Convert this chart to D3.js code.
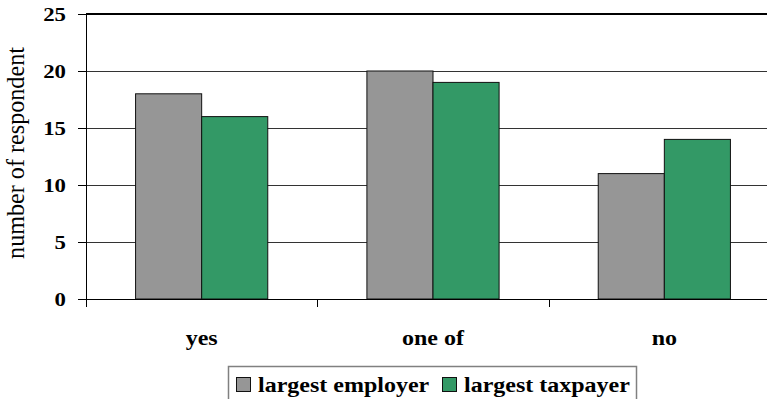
<!DOCTYPE html>
<html><head><meta charset="utf-8">
<script src="https://cdn.jsdelivr.net/npm/d3@7/dist/d3.min.js"></script>
<style>body{margin:0;background:#fff}svg{display:block}
text{font-family:"Liberation Serif","Times New Roman",Times,serif}</style>
</head><body>
<script>
const categories = ["yes", "one of", "no"];
const seriesNames = ["largest employer", "largest taxpayer"];
const employer = [18, 20, 11];
const taxpayer = [16, 19, 14];
const yTicks = [0, 5, 10, 15, 20, 25];
const colors = ["#969696", "#339966"];

const W = 767, H = 399;
const svg = d3.select("body").append("svg").attr("width", W).attr("height", H);
const SX = 1.2;

const x0 = d3.scaleBand().domain(categories).range([86, 780]).paddingInner(0).paddingOuter(0);
const x1 = d3.scaleBand().domain(seriesNames).range([0, x0.bandwidth()]).paddingOuter(0.75).paddingInner(0);
const y = d3.scaleLinear().domain([0, 25]).range([299, 14]);

// gridlines
svg.append("g").selectAll("line").data(yTicks.filter(d => d > 0 && d < 25)).join("line")
  .attr("x1", 86).attr("x2", W).attr("y1", d => Math.round(y(d)) + 0.5).attr("y2", d => Math.round(y(d)) + 0.5)
  .attr("stroke", "#333").attr("stroke-width", 1);
// top border
svg.append("line").attr("x1", 86).attr("x2", W).attr("y1", y(25)).attr("y2", y(25))
  .attr("stroke", "#000").attr("stroke-width", 2);

// bars
const data = categories.map((c, i) => ({c, vals: [employer[i], taxpayer[i]]}));
const g = svg.append("g").selectAll("g").data(data).join("g")
  .attr("transform", d => `translate(${x0(d.c)},0)`);
g.selectAll("rect").data(d => d.vals.map((v, j) => ({v, s: seriesNames[j], j}))).join("rect")
  .attr("x", d => x1(d.s)).attr("width", x1.bandwidth())
  .attr("y", d => y(d.v)).attr("height", d => y(0) - y(d.v))
  .attr("fill", d => colors[d.j]).attr("stroke", "#111").attr("stroke-width", 1);

// zero line / x axis
svg.append("line").attr("x1", 86).attr("x2", W).attr("y1", y(0) + 0.5).attr("y2", y(0) + 0.5)
  .attr("stroke", "#000").attr("stroke-width", 1);
// category tick marks
const bounds = categories.map(c => x0(c)).concat([x0.range()[1]]);
svg.append("g").selectAll("line").data(bounds).join("line")
  .attr("x1", d => Math.round(d) + 0.5).attr("x2", d => Math.round(d) + 0.5)
  .attr("y1", y(0)).attr("y2", y(0) + 8).attr("stroke", "#000");

// y axis
svg.append("line").attr("x1", 86.5).attr("x2", 86.5).attr("y1", y(25)).attr("y2", y(0) + 8)
  .attr("stroke", "#000").attr("stroke-width", 1);
svg.append("g").selectAll("line").data(yTicks).join("line")
  .attr("x1", 78).attr("x2", 86).attr("y1", d => Math.round(y(d)) + 0.5).attr("y2", d => Math.round(y(d)) + 0.5)
  .attr("stroke", "#000");
svg.append("g").selectAll("text").data(yTicks).join("text")
  .attr("transform", d => `translate(66,${y(d) + 7}) scale(${SX},1)`)
  .attr("text-anchor", "end").attr("font-weight", "bold").attr("font-size", 19)
  .text(d => d);

// category labels
svg.append("g").selectAll("text").data(categories).join("text")
  .attr("transform", d => `translate(${x0(d) + x0.bandwidth() / 2},${345}) scale(${SX},1)`)
  .attr("text-anchor", "middle").attr("font-weight", "bold").attr("font-size", 20)
  .text(d => d);

// y title
const title = svg.append("text").attr("transform", `translate(24,153) rotate(-90)`)
  .attr("text-anchor", "middle").attr("font-size", 20)
  .text("number of respondent");
const tl = title.node().getComputedTextLength();
title.attr("font-size", 20 * 212 / tl);

// legend
const lg = svg.append("g");
lg.append("rect").attr("x", 228.5).attr("y", 366.5).attr("width", 408).attr("height", 50)
  .attr("fill", "#fff").attr("stroke", "#808080").attr("stroke-width", 1.5);
const legX = [236, 442];
seriesNames.forEach((s, i) => {
  lg.append("rect").attr("x", legX[i] + 0.5).attr("y", 377.5).attr("width", 14).attr("height", 14)
    .attr("fill", colors[i]).attr("stroke", "#111");
  lg.append("text").attr("transform", `translate(${legX[i] + 22},392) scale(${SX},1)`)
    .attr("font-weight", "bold").attr("font-size", 20).text(s);
});
</script>
</body></html>
